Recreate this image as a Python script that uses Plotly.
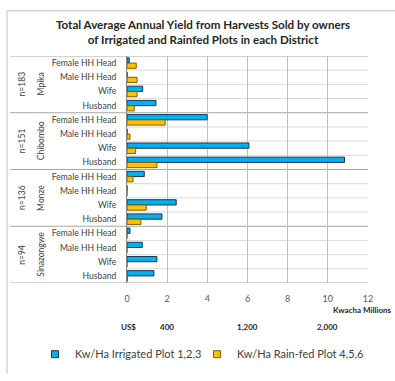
import plotly.graph_objects as go

# District groups and the respondents within each group
districts = ["Mpika", "Chibombo", "Monze", "Sinazongwe"]
sample_sizes = ["n=183", "n=151", "n=136", "n=94"]
roles = ["Female HH Head", "Male HH Head", "Wife", "Husband"]

# Yield per hectare in millions of Kwacha, ordered district by district
irrigated = [0.11, 0.00, 0.78, 1.44,
             3.99, 0.00, 6.07, 10.83,
             0.86, 0.00, 2.45, 1.74,
             0.15, 0.76, 1.49, 1.34]
rainfed = [0.46, 0.50, 0.50, 0.36,
           1.90, 0.15, 0.43, 1.49,
           0.30, 0.00, 0.96, 0.69,
           0.00, 0.00, 0.00, 0.03]

series_names = ["Kw/Ha Irrigated Plot 1,2,3", "Kw/Ha Rain-fed Plot 4,5,6"]
x_ticks = [0, 2, 4, 6, 8, 10, 12]
usd_labels = ["400", "1,200", "2,000"]
usd_values = [400, 1200, 2000]
kwacha_per_usd_million = 0.005  # 1 US$ = 5,000 Kwacha

n_groups = len(districts)
n_roles = len(roles)
y_pos = list(range(n_groups * n_roles))
y_text = roles * n_groups

FONT = "Lato"
TEXT = "#404040"
FILLS = ["#00B0F0", "#FFC000"]
EDGES = ["#1F3550", "#7F6000"]
KEY_WIDTHS = [117, 140]

fig = go.Figure()
for vals, name, fill, edge in zip([irrigated, rainfed], series_names, FILLS, EDGES):
    fig.add_trace(go.Bar(
        y=y_pos, x=vals, orientation="h", name=name, showlegend=False,
        marker=dict(color=fill, line=dict(color=edge, width=1)),
    ))
# small square keys for the legend
for name, fill, edge, kw in zip(series_names, FILLS, EDGES, KEY_WIDTHS):
    fig.add_trace(go.Scatter(
        x=[None], y=[None], mode="markers", name=name, legendwidth=kw,
        marker=dict(symbol="square", size=7, color=fill,
                    line=dict(color=edge, width=1)),
    ))

# Pixel geometry of the plotting area
W, H = 395, 381
L, R, T, B = 127, 27, 56, 89
pw, ph = W - L - R, H - T - B


def px_x(p):
    return (p - L) / pw


def px_y(p):
    return (H - B - p) / ph


shapes = []
# light separators between roles
for i in range(len(y_pos) + 1):
    b = i - 0.5
    if i % n_roles == 0:
        continue
    shapes.append(dict(type="line", xref="paper", yref="y", x0=0, x1=1,
                       y0=b, y1=b, line=dict(color="#D9D9D9", width=1),
                       layer="below"))
# darker separators between districts, running into the label area
for g in range(n_groups + 1):
    b = g * n_roles - 0.5
    shapes.append(dict(type="line", xref="paper", yref="y", x0=px_x(10), x1=1,
                       y0=b, y1=b, line=dict(color="#A6A6A6", width=1),
                       layer="below"))
# outer frame (left and top edges)
shapes.append(dict(type="line", xref="paper", yref="paper",
                   x0=px_x(7), x1=px_x(7), y0=px_y(9), y1=px_y(H + 5),
                   line=dict(color="#BFBFBF", width=1)))
shapes.append(dict(type="line", xref="paper", yref="paper",
                   x0=px_x(7), x1=px_x(W + 5), y0=px_y(9), y1=px_y(9),
                   line=dict(color="#BFBFBF", width=1)))

annotations = []
annotations.append(dict(
    text="<b>Total Average Annual Yield from Harvests Sold by owners<br>"
         "of Irrigated and Rainfed Plots in each District</b>",
    xref="paper", yref="paper", x=px_x(203), y=px_y(31.5),
    xanchor="center", yanchor="middle", showarrow=False,
    font=dict(family=FONT, size=11.6, color="#262626")))
for g, (d, n) in enumerate(zip(districts, sample_sizes)):
    yc = g * n_roles + (n_roles - 1) / 2
    annotations.append(dict(text=d, xref="paper", yref="y", x=px_x(41), y=yc,
                            textangle=-90, showarrow=False,
                            xanchor="center", yanchor="middle",
                            font=dict(family=FONT, size=8.5, color=TEXT)))
    annotations.append(dict(text=n, xref="paper", yref="y", x=px_x(22), y=yc,
                            textangle=-90, showarrow=False,
                            xanchor="center", yanchor="middle",
                            font=dict(family=FONT, size=8.5, color=TEXT)))
annotations.append(dict(text="<b>Kwacha Millions</b>", xref="paper", yref="paper",
                        x=px_x(394), y=px_y(320), xanchor="right", yanchor="middle",
                        showarrow=False, font=dict(family=FONT, size=8, color="#262626")))
annotations.append(dict(text="<b>US$</b>", xref="x", yref="paper",
                        x=0.07, y=px_y(338), xanchor="center", yanchor="middle",
                        showarrow=False, font=dict(family=FONT, size=8, color="#262626")))
for lab, v in zip(usd_labels, usd_values):
    annotations.append(dict(text=f"<b>{lab}</b>", xref="x", yref="paper",
                            x=v * kwacha_per_usd_million, y=px_y(338),
                            xanchor="center", yanchor="middle", showarrow=False,
                            font=dict(family=FONT, size=8, color="#262626")))

fig.update_layout(
    width=W, height=H, autosize=False,
    margin=dict(l=L, r=R, t=T, b=B, pad=0),
    paper_bgcolor="white", plot_bgcolor="white",
    barmode="group", bargap=0.26, bargroupgap=0,
    font=dict(family=FONT, color=TEXT),
    xaxis=dict(range=[0, 12], tickvals=x_ticks, showgrid=True,
               gridcolor="#BFBFBF", gridwidth=1, zeroline=False,
               showline=False, ticks="", ticklabelstandoff=9,
               tickfont=dict(family=FONT, size=9, color="#595959"),
               fixedrange=True),
    yaxis=dict(range=[len(y_pos) - 0.5, -0.5], tickvals=y_pos, ticktext=y_text,
               showgrid=False, zeroline=False, showline=True,
               linecolor="#868686", linewidth=1, ticks="",
               ticklabelstandoff=8,
               tickfont=dict(family=FONT, size=8.6, color=TEXT),
               fixedrange=True),
    legend=dict(orientation="h", x=px_x(35), y=px_y(366),
                xanchor="left", yanchor="middle",
                font=dict(family=FONT, size=11, color=TEXT),
                itemwidth=30, traceorder="normal", tracegroupgap=0),
    shapes=shapes, annotations=annotations,
)

fig.write_html("out.html")
